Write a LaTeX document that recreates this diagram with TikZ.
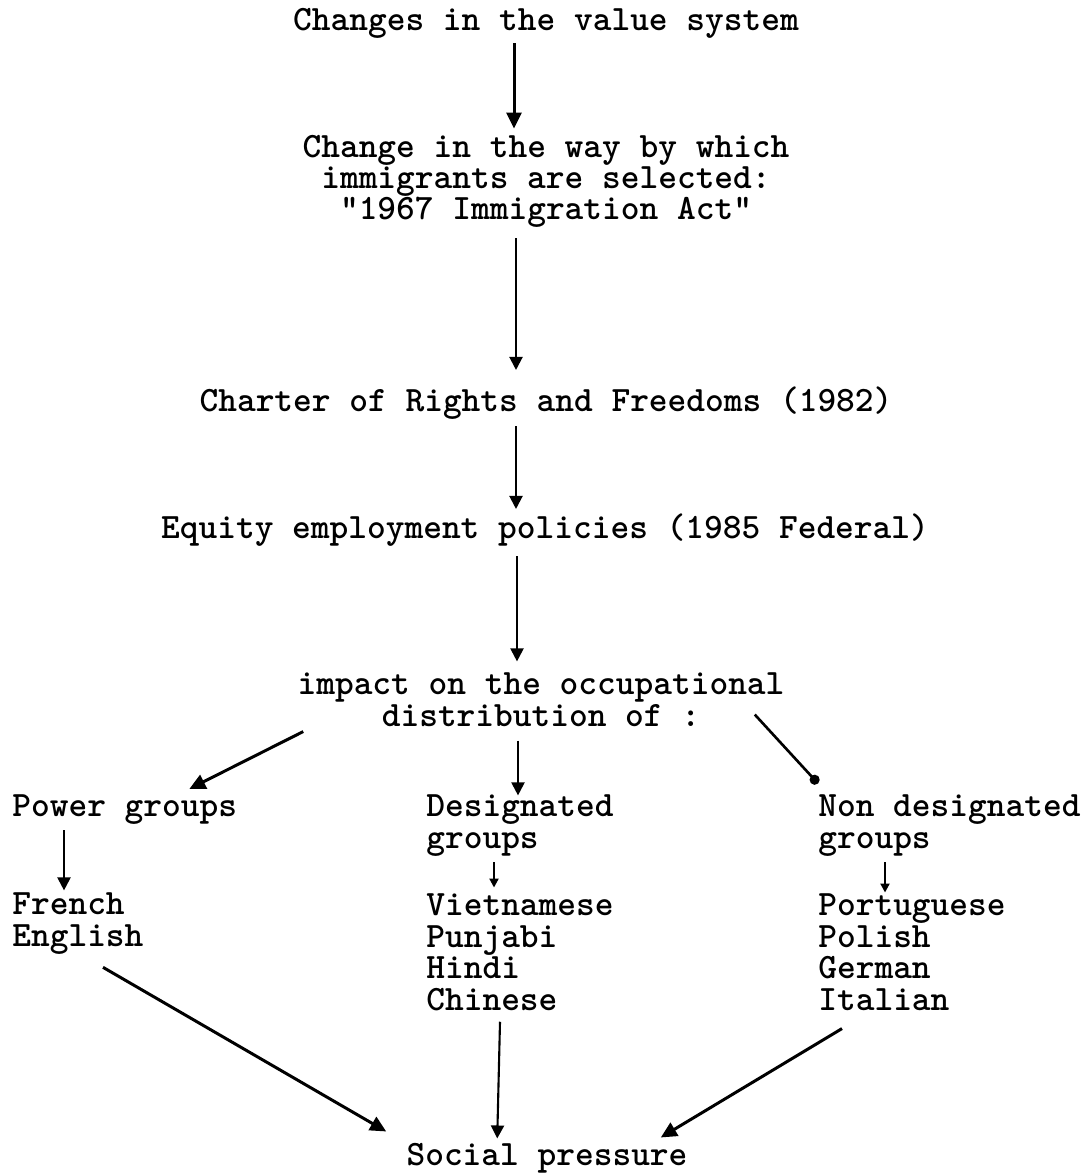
\documentclass[tikz,border=0pt]{standalone}
\usepackage{tikz}
\tikzset{>=latex}
\usetikzlibrary{arrows.meta}
\usetikzlibrary{calc}
\tikzset{
    entry/.style={font=\ttfamily\bfseries\fontsize{20.3}{17.9}\selectfont, inner sep=0pt},
    flow/.style={line width=1.2pt, -{Triangle[length=0.26cm, width=0.26cm]}},
    heavyflow/.style={line width=1.7pt, -{Triangle[length=0.32cm, width=0.3cm]}},
    smallflow/.style={line width=1.2pt, -{Triangle[length=0.18cm, width=0.18cm]}},
    dotflow/.style={line width=1.5pt, -{Circle[length=0.2cm]}}
}

\begin{document}
\begin{tikzpicture}[x=0.02cm, y=-0.02cm]
            \useasboundingbox (0, 0) rectangle (1091, 1175);
            \node[entry, anchor=base] (values) at (546, 31) {Changes in the value system};
            \node[entry, anchor=base, align=center] (select) at (546, 220) {Change in the way by which\\immigrants are selected:\\"1967 Immigration Act"};
            \node[entry, anchor=base] (rights) at (546, 411) {Charter of Rights and Freedoms (1982)};
            \node[entry, anchor=base] (equity) at (545, 538) {Equity employment policies (1985 Federal)};
            \node[entry, anchor=base, align=center] (impact) at (541, 726) {impact on the occupational\\distribution of :};
            \node[entry, anchor=base west] (power) at (12, 816) {Power groups};
            \node[entry, anchor=base west, align=left] (desig) at (426, 848) {Designated\\groups};
            \node[entry, anchor=base west, align=left] (nondesig) at (818, 848) {Non designated\\groups};
            \node[entry, anchor=base west, align=left] (founding) at (12, 946) {French\\English};
            \node[entry, anchor=base west, align=left] (visible) at (426, 1010) {Vietnamese\\Punjabi\\Hindi\\Chinese};
            \node[entry, anchor=base west, align=left] (european) at (818, 1010) {Portuguese\\Polish\\German\\Italian};
            \node[entry, anchor=base] (pressure) at (547, 1165) {Social pressure};
            \draw[heavyflow] ($(values.south) + (-32, 4)$) -- ($(select.north) + (-32, -6)$);
            \draw[flow] ($(select.south) + (-30, 10)$) -- ($(rights.north) + (-30, -16)$);
            \draw[flow] ($(rights.south) + (-30, 7)$) -- ($(equity.north) + (-29, -4)$);
            \draw[flow] ($(equity.south) + (-28, 10)$) -- ($(impact.north) + (-24, -11)$);
            \draw[heavyflow] ($(impact.south west) + (6, 5)$) -- ($(power.north east) + (-48, -5)$);
            \draw[flow] ($(impact.south) + (-23, 14)$) -- ($(desig.north west) + (92, 1)$);
            \draw[dotflow] ($(impact.south east) + (-30, -12)$) -- ($(nondesig.north west) + (0, -11)$);
            \draw[flow] ($(power.south west) + (52, 6)$) -- ($(founding.north west) + (52, -2)$);
            \draw[smallflow] ($(desig.south west) + (68, 6)$) -- ($(visible.north west) + (68, -6)$);
            \draw[smallflow] ($(nondesig.south west) + (67, 6)$) -- ($(european.north west) + (67, -1)$);
            \draw[heavyflow] ($(founding.south west) + (91, 13)$) -- ($(pressure.north west) + (-20, -11)$);
            \draw[flow] ($(visible.south west) + (74, 11)$) -- ($(pressure.north west) + (91, -4)$);
            \draw[heavyflow] ($(european.south west) + (24, 18)$) -- ($(pressure.north east) + (-27, -5)$);
        \end{tikzpicture}
\end{document}
